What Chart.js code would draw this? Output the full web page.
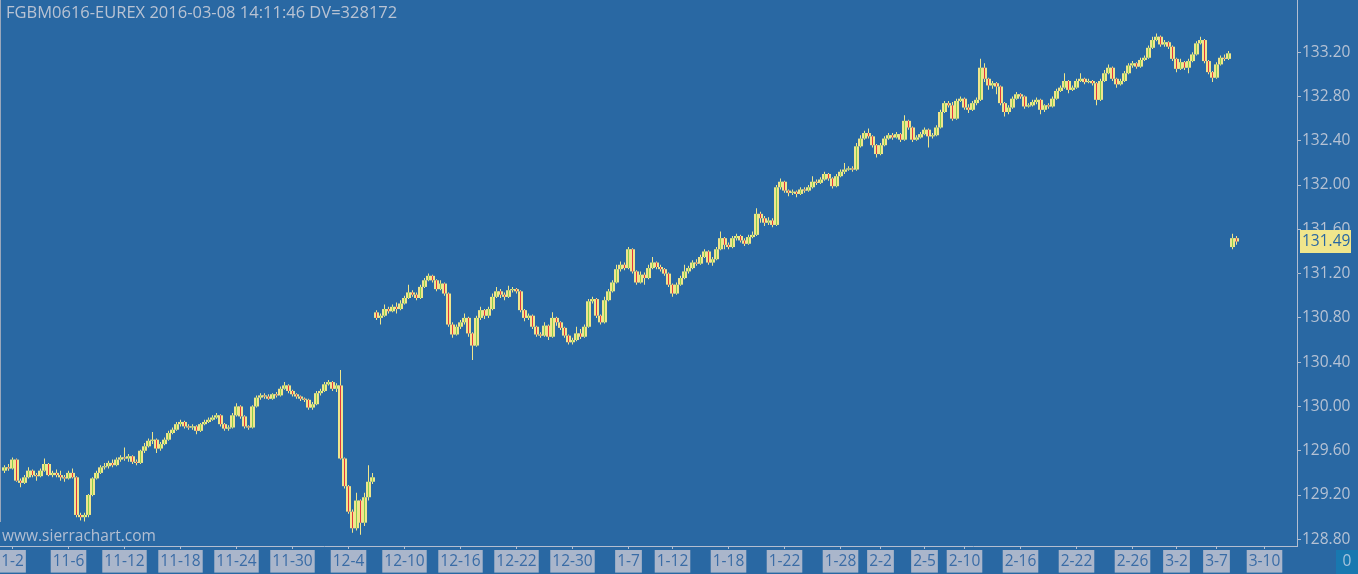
<!DOCTYPE html>
<html><head><meta charset="utf-8">
<script src="https://cdn.jsdelivr.net/npm/chart.js@4.4.1/dist/chart.umd.min.js"></script>
<style>
html,body{margin:0;padding:0;background:#2968a3;overflow:hidden}
#wrap{position:relative;width:1358px;height:574px}
</style></head><body>
<div id="wrap"><canvas id="c"></canvas></div>
<script>
// ---- DATA (one candle per bar slot) ----
const opens = [
129.42,129.45,129.44,129.52,129.33,129.31,129.36,129.42,129.38,129.37,
129.42,129.48,129.38,129.40,129.38,129.36,129.35,129.40,129.36,129.02,
129.00,129.02,129.20,129.35,129.40,129.45,129.46,129.49,129.47,129.52,
129.54,129.53,129.55,129.50,129.49,129.60,129.64,129.69,129.70,129.62,
129.66,129.70,129.76,129.79,129.84,129.86,129.82,129.81,129.82,129.78,
129.84,129.86,129.88,129.90,129.92,129.84,129.80,129.81,129.92,130.00,
129.91,129.82,129.81,130.00,130.08,130.10,130.09,130.07,130.11,130.10,
130.16,130.19,130.14,130.11,130.09,130.07,130.06,129.99,130.02,130.12,
130.14,130.20,130.22,130.16,130.19,129.53,129.28,129.05,128.90,129.15,
128.95,129.18,129.32,
130.85,130.80,130.82,130.88,130.86,130.90,130.88,130.93,130.98,131.03,
131.01,130.98,131.08,131.14,131.18,131.14,131.06,131.11,131.02,130.74,
130.65,130.72,130.76,130.80,130.66,130.55,130.80,130.87,130.82,130.88,
130.99,131.04,131.01,130.99,131.05,131.06,131.04,130.87,130.80,130.82,
130.72,130.65,130.64,130.73,130.63,130.80,130.76,130.71,130.64,130.58,
130.60,130.66,130.63,130.72,130.95,130.97,130.82,130.76,130.96,131.04,
131.12,131.24,131.28,131.25,131.42,131.22,131.12,131.19,131.16,131.25,
131.30,131.26,131.24,131.20,131.10,131.02,131.10,131.16,131.22,131.25,
131.30,131.29,131.35,131.40,131.30,131.33,131.42,131.52,131.46,131.44,
131.52,131.54,131.50,131.47,131.53,131.55,131.74,131.70,131.66,131.68,
131.64,131.98,132.03,131.95,131.93,131.94,131.92,131.96,131.95,131.98,
132.03,132.02,132.05,132.10,132.06,131.99,132.08,132.12,132.14,132.15,
132.14,132.35,132.42,132.47,132.44,132.36,132.28,132.36,132.42,132.45,
132.43,132.46,132.41,132.58,132.52,132.41,132.43,132.46,132.50,132.44,
132.45,132.52,132.66,132.74,132.72,132.60,132.76,132.78,132.70,132.68,
132.74,132.77,133.06,132.96,132.90,132.92,132.89,132.74,132.66,132.70,
132.78,132.82,132.80,132.71,132.72,132.75,132.77,132.68,132.72,132.71,
132.78,132.85,132.88,132.94,132.86,132.88,132.94,132.96,132.93,132.94,
132.92,132.77,132.94,133.01,133.06,132.96,132.91,132.94,133.01,133.08,
133.10,133.07,133.13,133.15,133.24,133.31,133.34,133.27,133.29,133.25,
133.14,133.05,133.11,133.06,133.12,133.18,133.28,133.31,133.12,133.02,
132.97,133.09,133.15,133.14,
131.44,131.52
];
const highs = [
129.47,129.48,129.54,129.53,129.35,129.38,129.45,129.43,129.40,129.44,
129.53,129.49,129.42,129.43,129.42,129.38,129.42,129.44,129.37,129.04,
129.04,129.21,129.36,129.42,129.47,129.49,129.51,129.52,129.54,129.56,
129.63,129.57,129.56,129.52,129.61,129.67,129.71,129.77,129.71,129.68,
129.72,129.78,129.81,129.86,129.88,129.87,129.84,129.84,129.83,129.85,
129.88,129.90,129.92,129.94,129.93,129.85,129.83,129.94,130.03,130.01,
129.92,129.83,130.01,130.10,130.12,130.12,130.11,130.12,130.13,130.18,
130.22,130.20,130.15,130.12,130.10,130.08,130.07,130.04,130.14,130.16,
130.22,130.24,130.23,130.21,130.33,129.54,129.29,129.07,129.22,129.16,
129.22,129.47,129.40,
130.87,130.84,130.92,130.90,130.92,130.94,130.96,131.00,131.10,131.05,
131.03,131.10,131.16,131.20,131.19,131.15,131.14,131.12,131.03,130.76,
130.74,130.78,130.84,130.81,130.67,130.82,130.90,130.88,130.90,131.02,
131.08,131.06,131.03,131.09,131.08,131.07,131.05,130.88,130.84,130.83,
130.73,130.67,130.76,130.74,130.85,130.81,130.77,130.72,130.65,130.62,
130.72,130.70,130.74,130.97,130.99,130.98,130.83,130.99,131.06,131.14,
131.28,131.31,131.30,131.44,131.43,131.23,131.22,131.21,131.28,131.35,
131.31,131.28,131.25,131.21,131.11,131.12,131.18,131.28,131.27,131.32,
131.33,131.37,131.42,131.41,131.35,131.44,131.58,131.53,131.48,131.54,
131.56,131.55,131.52,131.55,131.58,131.79,131.76,131.72,131.71,131.70,
132.00,132.06,132.04,131.96,131.96,131.95,131.98,131.98,132.00,132.08,
132.05,132.07,132.12,132.11,132.07,132.10,132.14,132.20,132.17,132.17,
132.38,132.45,132.49,132.51,132.45,132.37,132.38,132.44,132.47,132.47,
132.48,132.47,132.63,132.59,132.53,132.45,132.48,132.52,132.51,132.47,
132.54,132.68,132.76,132.76,132.75,132.78,132.80,132.79,132.73,132.76,
132.79,133.14,133.10,132.97,132.94,132.93,132.90,132.75,132.72,132.80,
132.84,132.83,132.81,132.74,132.77,132.79,132.78,132.73,132.74,132.80,
132.87,132.90,133.01,132.95,132.90,132.96,133.01,132.97,132.96,132.95,
132.93,132.96,133.04,133.09,133.07,132.97,132.96,133.03,133.10,133.12,
133.11,133.15,133.17,133.26,133.34,133.37,133.35,133.31,133.30,133.26,
133.15,133.14,133.12,133.14,133.20,133.30,133.34,133.32,133.13,133.03,
133.11,133.17,133.18,133.21,
131.56,131.54
];
const lows = [
129.40,129.42,129.43,129.32,129.27,129.30,129.35,129.36,129.33,129.36,
129.41,129.37,129.36,129.36,129.33,129.32,129.34,129.35,129.00,128.97,
128.96,129.00,129.19,129.34,129.39,129.43,129.44,129.45,129.46,129.50,
129.51,129.50,129.48,129.47,129.48,129.58,129.63,129.66,129.58,129.60,
129.65,129.69,129.75,129.78,129.82,129.80,129.79,129.79,129.75,129.77,
129.83,129.85,129.87,129.89,129.82,129.78,129.78,129.80,129.91,129.89,
129.80,129.79,129.80,129.99,130.06,130.07,130.06,130.06,130.08,130.09,
130.15,130.12,130.09,130.07,130.05,130.04,129.97,129.97,130.01,130.10,
130.13,130.19,130.14,130.13,129.52,129.26,129.03,128.86,128.88,128.84,
128.92,129.15,129.30,
130.78,130.74,130.81,130.84,130.85,130.84,130.87,130.92,130.97,130.99,
130.96,130.97,131.07,131.13,131.12,131.04,131.05,131.00,130.72,130.62,
130.64,130.70,130.74,130.63,130.42,130.54,130.78,130.79,130.80,130.87,
130.98,130.98,130.96,130.98,131.03,131.02,130.85,130.77,130.78,130.70,
130.63,130.62,130.63,130.60,130.62,130.73,130.69,130.62,130.56,130.56,
130.59,130.61,130.62,130.71,130.93,130.80,130.74,130.75,130.95,131.03,
131.11,131.22,131.23,131.24,131.20,131.10,131.11,131.10,131.15,131.24,
131.24,131.22,131.18,131.08,130.99,131.01,131.09,131.15,131.20,131.24,
131.27,131.28,131.34,131.28,131.27,131.32,131.41,131.42,131.42,131.43,
131.50,131.48,131.45,131.46,131.52,131.54,131.66,131.63,131.64,131.62,
131.63,131.96,131.93,131.90,131.91,131.89,131.91,131.93,131.94,131.97,
132.00,132.01,132.04,132.04,131.97,131.98,132.07,132.10,132.13,132.12,
132.13,132.34,132.41,132.42,132.34,132.25,132.27,132.35,132.41,132.41,
132.42,132.39,132.40,132.50,132.39,132.40,132.42,132.45,132.34,132.42,
132.44,132.51,132.65,132.70,132.58,132.59,132.75,132.68,132.65,132.67,
132.72,132.76,132.93,132.86,132.87,132.82,132.72,132.62,132.64,132.69,
132.77,132.78,132.69,132.70,132.71,132.73,132.64,132.66,132.69,132.70,
132.77,132.84,132.87,132.83,132.85,132.87,132.93,132.91,132.92,132.90,
132.72,132.76,132.93,133.00,132.94,132.88,132.90,132.93,133.00,133.06,
133.05,133.06,133.12,133.14,133.23,133.30,133.25,133.25,133.23,133.12,
133.02,133.04,133.04,133.01,133.11,133.17,133.27,133.10,133.00,132.93,
132.96,133.08,133.12,133.13,
131.42,131.46
];
const closes = [
129.45,129.44,129.52,129.33,129.31,129.36,129.42,129.38,129.37,129.42,
129.48,129.38,129.40,129.38,129.36,129.35,129.40,129.36,129.02,129.00,
129.02,129.20,129.35,129.40,129.45,129.46,129.49,129.47,129.52,129.54,
129.53,129.55,129.50,129.49,129.60,129.64,129.69,129.70,129.62,129.66,
129.70,129.76,129.79,129.84,129.86,129.82,129.81,129.82,129.78,129.84,
129.86,129.88,129.90,129.92,129.84,129.80,129.81,129.92,130.00,129.91,
129.82,129.81,130.00,130.08,130.10,130.09,130.07,130.11,130.10,130.16,
130.19,130.14,130.11,130.09,130.07,130.06,129.99,130.02,130.12,130.14,
130.20,130.22,130.16,130.19,129.53,129.28,129.05,128.90,129.15,128.95,
129.18,129.32,129.36,
130.80,130.82,130.88,130.86,130.90,130.88,130.93,130.98,131.03,131.01,
130.98,131.08,131.14,131.18,131.14,131.06,131.11,131.02,130.74,130.65,
130.72,130.76,130.80,130.66,130.55,130.80,130.87,130.82,130.88,130.99,
131.04,131.01,130.99,131.05,131.06,131.04,130.87,130.80,130.82,130.72,
130.65,130.64,130.73,130.63,130.80,130.76,130.71,130.64,130.58,130.60,
130.66,130.63,130.72,130.95,130.97,130.82,130.76,130.96,131.04,131.12,
131.24,131.28,131.25,131.42,131.22,131.12,131.19,131.16,131.25,131.30,
131.26,131.24,131.20,131.10,131.02,131.10,131.16,131.22,131.25,131.30,
131.29,131.35,131.40,131.30,131.33,131.42,131.52,131.46,131.44,131.52,
131.54,131.50,131.47,131.53,131.55,131.74,131.70,131.66,131.68,131.64,
131.98,132.03,131.95,131.93,131.94,131.92,131.96,131.95,131.98,132.03,
132.02,132.05,132.10,132.06,131.99,132.08,132.12,132.14,132.15,132.14,
132.35,132.42,132.47,132.44,132.36,132.28,132.36,132.42,132.45,132.43,
132.46,132.41,132.58,132.52,132.41,132.43,132.46,132.50,132.44,132.45,
132.52,132.66,132.74,132.72,132.60,132.76,132.78,132.70,132.68,132.74,
132.77,133.06,132.96,132.90,132.92,132.89,132.74,132.66,132.70,132.78,
132.82,132.80,132.71,132.72,132.75,132.77,132.68,132.72,132.71,132.78,
132.85,132.88,132.94,132.86,132.88,132.94,132.96,132.93,132.94,132.92,
132.77,132.94,133.01,133.06,132.96,132.91,132.94,133.01,133.08,133.10,
133.07,133.13,133.15,133.24,133.31,133.34,133.27,133.29,133.25,133.14,
133.05,133.11,133.06,133.12,133.18,133.28,133.31,133.12,133.02,132.97,
133.09,133.15,133.14,133.19,
131.52,131.49
];
// date labels and the bar slot each one sits on
const tickBars   = [2,16,30,44,58,72,86,100,114,128,142,156,167,181,195,209,219,230,240,254,268,282,293,303,315];
const tickLabels = ['1-2','11-6','11-12','11-18','11-24','11-30','12-4','12-10','12-16','12-22','12-30','1-7','1-12','1-18','1-22','1-28','2-2','2-5','2-10','2-16','2-22','2-26','3-2','3-7','3-10'];
const priceTicks = [128.80,129.20,129.60,130.00,130.40,130.80,131.20,131.60,132.00,132.40,132.80,133.20];
const lastPrice = 131.49;
const titleText = 'FGBM0616-EUREX 2016-03-08 14:11:46 DV=328172';
const watermark = 'www.sierrachart.com';
const volumeText = '0';

// ---- STYLE ----
const BG = '#2968a3', YEL = '#f0e68c', GRN = '#86cc4e', RED = '#e2323e';
const AXIS = '#b3bed0', YTXT = '#b6c2d4', LBLBG = '#aab6cb', LBLTXT = '#3a6ca6';
const FONT = "'Open Sans', 'Noto Sans', sans-serif";
Chart.defaults.font.family = FONT;

const fills = opens.map((o, i) => ({x: i, y: [o, closes[i]]}));
const bodies = opens.map((o, i) => ({x: i, y: [o, closes[i]]}));
const wicks = lows.map((l, i) => ({x: i, y: [l, highs[i]]}));
const upDown = c => (closes[c.dataIndex] >= opens[c.dataIndex] ? GRN : RED);

const decor = {
  id: 'decor',
  beforeDraw(chart) {
    const {ctx, width, height} = chart;
    ctx.save();
    ctx.fillStyle = BG;
    ctx.fillRect(0, 0, width, height);
    ctx.fillStyle = '#9aa7bb';
    ctx.fillRect(0, 0, 1, 522);
    ctx.restore();
  },
  afterDraw(chart) {
    const {ctx, chartArea} = chart;
    const ys = chart.scales.y;
    ctx.save();
    ctx.font = '16.5px ' + FONT;
    ctx.fillStyle = '#b9c3d3';
    ctx.textBaseline = 'alphabetic';
    ctx.textAlign = 'left';
    ctx.fillText(titleText, 6, 18);
    ctx.font = '15.5px ' + FONT;
    ctx.fillStyle = '#b3bfd2';
    ctx.fillText(watermark, 2, 541);
    const py = ys.getPixelForValue(lastPrice);
    ctx.fillStyle = YEL;
    ctx.fillRect(chartArea.right + 3, Math.round(py - 11.5), 51, 23);
    ctx.fillStyle = BG;
    ctx.font = '15.5px ' + FONT;
    ctx.textBaseline = 'middle';
    ctx.fillText(lastPrice.toFixed(2), chartArea.right + 5, py + 0.5);
    ctx.fillStyle = '#1878b0';
    ctx.fillRect(1336, 550, 22, 24);
    ctx.fillStyle = '#a6c3dc';
    ctx.textAlign = 'center';
    ctx.fillText(volumeText, 1347, 562);
    ctx.restore();
  }
};

new Chart(document.getElementById('c'), {
  type: 'bar',
  data: {
    datasets: [
      {label: 'fill', data: fills, order: 0, grouped: false, barThickness: 1,
       inflateAmount: 0, borderWidth: 0, backgroundColor: upDown},
      {label: 'body', data: bodies, order: 1, grouped: false, barThickness: 5,
       inflateAmount: 0, borderWidth: 0, backgroundColor: YEL},
      {label: 'wick', data: wicks, order: 2, grouped: false, barThickness: 1,
       inflateAmount: 0, borderWidth: 0, backgroundColor: YEL}
    ]
  },
  options: {
    responsive: true, maintainAspectRatio: false, animation: false,
    layout: {padding: 0},
    plugins: {legend: {display: false}, tooltip: {enabled: false}, title: {display: false}},
    scales: {
      x: {
        type: 'linear', position: 'bottom', min: -1.125, max: 323.125, offset: false,
        afterBuildTicks: s => { s.ticks = tickBars.map(v => ({value: v})); },
        afterFit: s => { s.height = 28; s.paddingLeft = 0; s.paddingRight = 0; },
        grid: {display: true, drawOnChartArea: false, drawTicks: true, tickLength: 3, color: AXIS, offset: false},
        border: {display: true, color: AXIS, width: 1},
        ticks: {
          autoSkip: false, maxRotation: 0, minRotation: 0, padding: 3,
          color: LBLTXT, font: {family: FONT, size: 15.5},
          showLabelBackdrop: true, backdropColor: LBLBG, backdropPadding: {x: 2, y: 2},
          callback: v => { const k = tickBars.indexOf(v); return k >= 0 ? tickLabels[k] : ''; }
        }
      },
      y: {
        type: 'linear', position: 'right', min: 128.7395, max: 133.6717,
        afterBuildTicks: s => { s.ticks = priceTicks.map(v => ({value: v})); },
        afterFit: s => { s.width = 61; s.paddingTop = 0; s.paddingBottom = 0; },
        grid: {display: true, drawOnChartArea: false, drawTicks: true, tickLength: 4, color: AXIS},
        border: {display: true, color: AXIS, width: 1},
        ticks: {padding: 1, color: YTXT, font: {family: FONT, size: 15.5}, callback: v => Number(v).toFixed(2)}
      }
    }
  },
  plugins: [decor]
});
</script>
</body></html>
